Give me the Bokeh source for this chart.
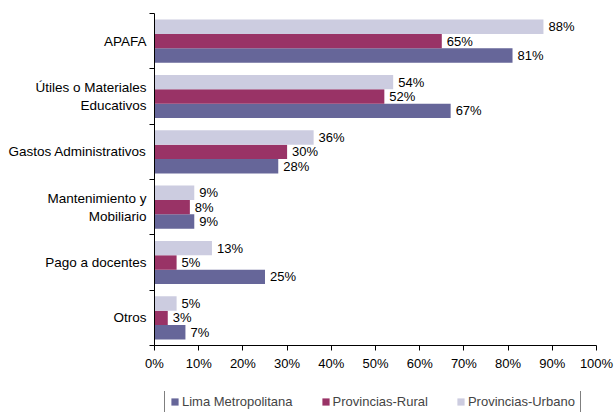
from bokeh.plotting import figure
from bokeh.layouts import column
from bokeh.models import (Range1d, FixedTicker, ColumnDataSource, Legend, LegendItem,
                          PrintfTickFormatter, LabelSet, LinearAxis)
from bokeh.core.properties import value
from bokeh.embed import file_html
from bokeh.resources import INLINE

categories = ["APAFA", "Útiles o Materiales\nEducativos", "Gastos Administrativos",
              "Mantenimiento y\nMobiliario", "Pago a docentes", "Otros"]
lima = [81, 67, 28, 9, 25, 7]
rural = [65, 52, 30, 8, 5, 3]
urbano = [88, 54, 36, 9, 13, 5]
series_names = ["Lima Metropolitana", "Provincias-Rural", "Provincias-Urbano"]
x_ticks = [0, 10, 20, 30, 40, 50, 60, 70, 80, 90, 100]

colors = ["#666699", "#993366", "#CCCCE0"]
FONT = "Liberation Sans"
n = len(categories)
centers = [n - i - 0.5 for i in range(n)]
bar_h = 0.26
offsets = [-bar_h, 0.0, bar_h]

p = figure(frame_width=442, frame_height=332, output_backend="svg", toolbar_location=None,
           x_range=Range1d(0, 100), y_range=Range1d(0, n),
           x_axis_location=None, y_axis_location=None,
           min_border_left=154, min_border_right=18, min_border_top=13, min_border_bottom=46)
p.outline_line_color = None
p.xgrid.visible = False
p.ygrid.visible = False

yax = LinearAxis(ticker=FixedTicker(ticks=centers, minor_ticks=list(range(n + 1))),
                 major_label_overrides={c: lab for c, lab in zip(centers, categories)})
yax.axis_line_color = "black"
yax.major_tick_line_color = None
yax.minor_tick_line_color = "black"
yax.minor_tick_out = 5
yax.minor_tick_in = 0
yax.major_label_standoff = 2
yax.major_label_text_font = FONT
yax.major_label_text_font_size = "13.5px"
yax.major_label_text_color = "black"
p.add_layout(yax, "left")

xax = LinearAxis(ticker=FixedTicker(ticks=x_ticks, minor_ticks=[]),
                 formatter=PrintfTickFormatter(format="%d%%"))
xax.axis_line_color = "black"
xax.major_tick_line_color = "black"
xax.major_tick_out = 5
xax.major_tick_in = 0
xax.major_label_standoff = 5
xax.major_label_text_font = FONT
xax.major_label_text_font_size = "13px"
xax.major_label_text_color = "black"
p.add_layout(xax, "below")

series = [lima, rural, urbano]
for vals, name, col, off in zip(series, series_names, colors, offsets):
    src = ColumnDataSource(dict(y=[c + off for c in centers], v=vals,
                                t=[f"{v}%" for v in vals]))
    p.hbar(y="y", right="v", left=0, height=bar_h, source=src,
           fill_color=col, line_color=None)
    p.add_layout(LabelSet(x="v", y="y", text="t", source=src, x_offset=5,
                          text_baseline="middle", text_font=value(FONT),
                          text_font_size=value("13px"), text_color="black"))

# legend strip below the chart (its frame is aligned with the chart's frame);
# its renderers lie outside its ranges so only the legend shows
lg = figure(width=614, height=21, output_backend="svg", toolbar_location=None,
            x_range=Range1d(1000, 1001), y_range=Range1d(100, 101),
            x_axis_location=None, y_axis_location=None, min_border=0)
lg.outline_line_color = None
lg.xgrid.visible = False
lg.ygrid.visible = False
items = []
for vals, name, col in zip(series, series_names, colors):
    r = lg.hbar(y=centers, right=vals, left=0, height=bar_h, fill_color=col, line_color=None)
    items.append(LegendItem(label=name, renderers=[r]))
legend = Legend(items=items, orientation="horizontal", location=(10, -3),
                border_line_color="black", border_line_width=1,
                label_text_font=FONT, label_text_font_size="13px",
                glyph_width=9, glyph_height=9, label_standoff=3, spacing=28,
                padding=5, margin=0, label_height=13, background_fill_alpha=1)
lg.add_layout(legend, "center")

layout = column(p, lg, spacing=0)
open("out.html", "w").write(file_html(layout, INLINE))
